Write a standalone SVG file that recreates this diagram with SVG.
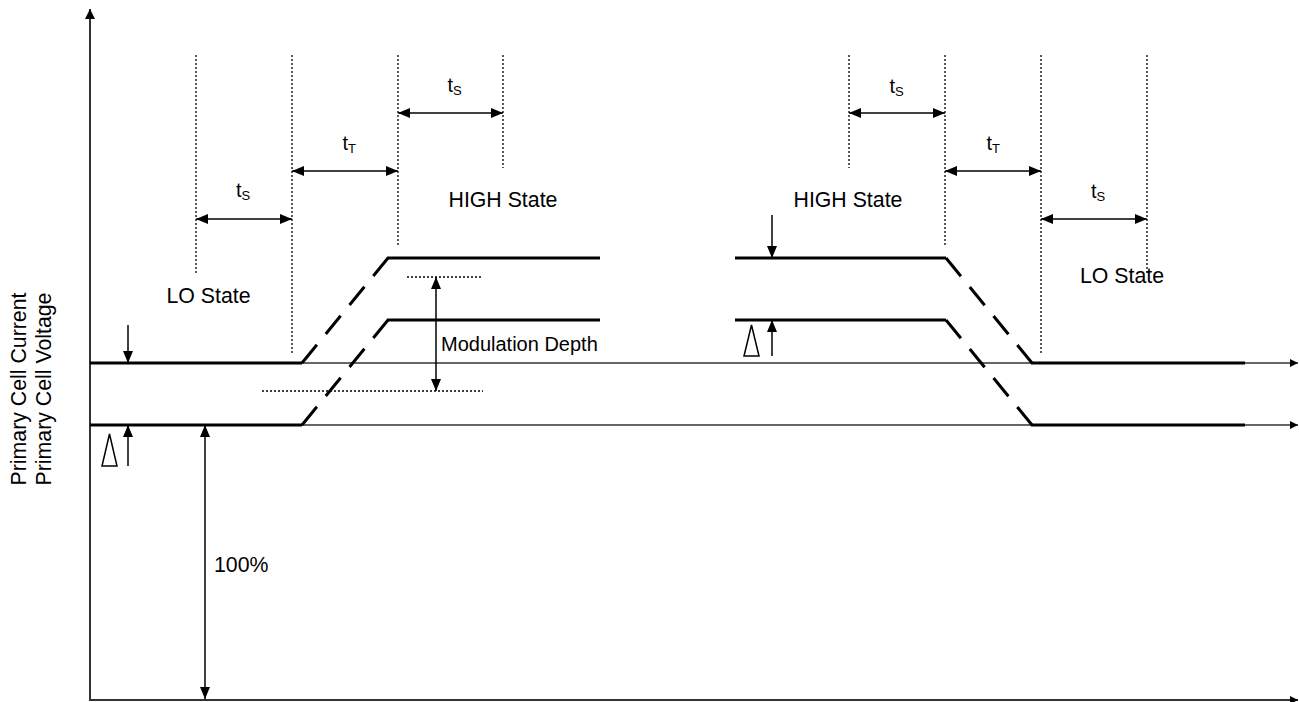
<svg xmlns="http://www.w3.org/2000/svg" width="1299" height="702" viewBox="0 0 1299 702">
<style>
.txt{font-family:"Liberation Sans",Arial,sans-serif;font-size:21.3px;fill:#000}
.lbl{font-family:"Liberation Sans",Arial,sans-serif;font-size:20px;fill:#000}
.sub{font-size:13px}
.axis{stroke:#333;stroke-width:2;fill:none}
.thin{stroke:#333;stroke-width:1.4;fill:none}
.thick{stroke:#000;stroke-width:3;fill:none}
.ramp{stroke:#000;stroke-width:3;fill:none;stroke-dasharray:23.5 14}
.dot{stroke:#000;stroke-width:1.3;fill:none;stroke-dasharray:2 2}
.dim{stroke:#000;stroke-width:1.5;fill:none}
</style>
<defs>
<marker id="ah" markerUnits="userSpaceOnUse" markerWidth="12" markerHeight="10" refX="12" refY="5" orient="auto-start-reverse"><path d="M0,0 L12,5 L0,10 z" fill="#000"/></marker>
<marker id="ax" markerUnits="userSpaceOnUse" markerWidth="10" markerHeight="10" refX="10" refY="5" orient="auto-start-reverse"><path d="M0,0 L10,5 L0,10 z" fill="#000"/></marker>
<marker id="hx" markerUnits="userSpaceOnUse" markerWidth="8" markerHeight="8" refX="8" refY="4" orient="auto"><path d="M0,0 L8,4 L0,8 z" fill="#000"/></marker>
</defs>

<g id="axes">
<line class="axis" x1="90" y1="701" x2="90" y2="9" marker-end="url(#ax)"/>
<line class="axis" x1="90" y1="700" x2="1298" y2="700" marker-end="url(#hx)"/>
<line class="thin" x1="90" y1="363" x2="1298" y2="363" marker-end="url(#hx)"/>
<line class="thin" x1="90" y1="425" x2="1298" y2="425" marker-end="url(#hx)"/>
</g>

<g id="traces">
<line class="thick" x1="90" y1="363" x2="302" y2="363"/>
<line class="thick" x1="90" y1="425" x2="302" y2="425"/>
<line class="ramp" x1="302" y1="363" x2="388" y2="258"/>
<line class="ramp" x1="302" y1="425" x2="388" y2="320"/>
<line class="thick" x1="387" y1="258" x2="600" y2="258"/>
<line class="thick" x1="387" y1="320" x2="600" y2="320"/>
<line class="thick" x1="735" y1="258" x2="946" y2="258"/>
<line class="thick" x1="735" y1="320" x2="946" y2="320"/>
<line class="ramp" x1="946" y1="258" x2="1032" y2="363"/>
<line class="ramp" x1="946" y1="320" x2="1032" y2="425"/>
<line class="thick" x1="1031" y1="363" x2="1245" y2="363"/>
<line class="thick" x1="1031" y1="425" x2="1245" y2="425"/>
</g>

<g id="guides">
<line class="dot" x1="196" y1="55" x2="196" y2="274"/>
<line class="dot" x1="292" y1="55" x2="292" y2="353"/>
<line class="dot" x1="398" y1="55" x2="398" y2="247"/>
<line class="dot" x1="503" y1="55" x2="503" y2="168"/>
<line class="dot" x1="849" y1="55" x2="849" y2="168"/>
<line class="dot" x1="945" y1="55" x2="945" y2="247"/>
<line class="dot" x1="1041" y1="55" x2="1041" y2="353"/>
<line class="dot" x1="1147" y1="55" x2="1147" y2="274"/>
<line class="dot" x1="407" y1="277" x2="483" y2="277"/>
<line class="dot" x1="262" y1="391" x2="483" y2="391"/>
</g>

<g id="connectors">
<line class="dim" x1="196" y1="219" x2="292" y2="219" marker-start="url(#ah)" marker-end="url(#ah)"/>
<line class="dim" x1="292" y1="171" x2="398" y2="171" marker-start="url(#ah)" marker-end="url(#ah)"/>
<line class="dim" x1="398" y1="113" x2="503" y2="113" marker-start="url(#ah)" marker-end="url(#ah)"/>
<line class="dim" x1="849" y1="113" x2="945" y2="113" marker-start="url(#ah)" marker-end="url(#ah)"/>
<line class="dim" x1="945" y1="171" x2="1041" y2="171" marker-start="url(#ah)" marker-end="url(#ah)"/>
<line class="dim" x1="1041" y1="219" x2="1147" y2="219" marker-start="url(#ah)" marker-end="url(#ah)"/>
<line class="dim" x1="436" y1="277" x2="436" y2="391" marker-start="url(#ah)" marker-end="url(#ah)"/>
<line class="dim" x1="205" y1="425" x2="205" y2="699" marker-start="url(#ah)" marker-end="url(#ah)"/>
<line class="dim" x1="128" y1="325" x2="128" y2="363" marker-end="url(#ah)"/>
<line class="dim" x1="128" y1="466" x2="128" y2="425" marker-end="url(#ah)"/>
<line class="dim" x1="772" y1="215" x2="772" y2="258" marker-end="url(#ah)"/>
<line class="dim" x1="772" y1="356" x2="772" y2="320" marker-end="url(#ah)"/>
</g>

<g id="deltas">
<polygon points="109.5,434 117,466 102,466" fill="#fff" stroke="#000" stroke-width="1.5"/>
<polygon points="751.5,325 759,356 744,356" fill="#fff" stroke="#000" stroke-width="1.5"/>
</g>

<g id="labels">
<text class="lbl" x="236" y="197">t<tspan class="sub" dy="3">S</tspan></text>
<text class="lbl" x="342.5" y="150">t<tspan class="sub" dy="3">T</tspan></text>
<text class="lbl" x="447.5" y="92">t<tspan class="sub" dy="3">S</tspan></text>
<text class="lbl" x="889.5" y="93">t<tspan class="sub" dy="3">S</tspan></text>
<text class="lbl" x="986.5" y="150">t<tspan class="sub" dy="3">T</tspan></text>
<text class="lbl" x="1091" y="198">t<tspan class="sub" dy="3">S</tspan></text>
<text class="txt" x="448.5" y="206.5">HIGH State</text>
<text class="txt" x="793.5" y="206.5">HIGH State</text>
<text class="txt" x="166.5" y="303">LO State</text>
<text class="txt" x="1080" y="283">LO State</text>
<text class="txt" x="441" y="351" style="font-size:20px">Modulation Depth</text>
<text class="txt" x="214" y="572">100%</text>
<text class="txt" transform="translate(25.5,389) rotate(-90)" text-anchor="middle">Primary Cell Current</text>
<text class="txt" transform="translate(50.5,389) rotate(-90)" text-anchor="middle">Primary Cell Voltage</text>
</g>
</svg>
